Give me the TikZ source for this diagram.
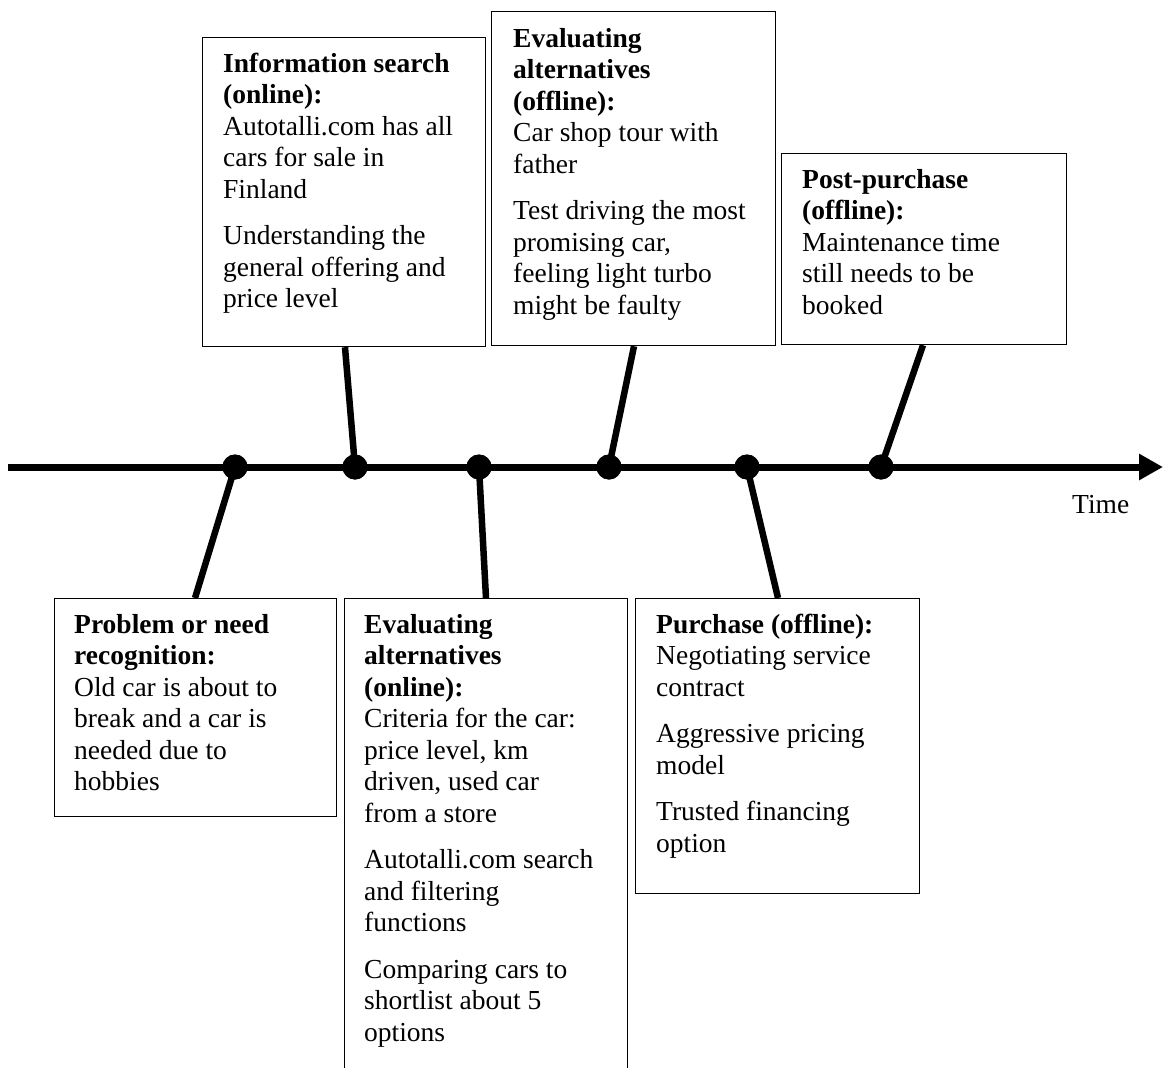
\documentclass[tikz,border=0pt]{standalone}
\usepackage{fontspec}
\setmainfont{Liberation Serif}
\usetikzlibrary{arrows.meta,calc}

\begin{document}
\begin{tikzpicture}[x=1pt,y=-1pt,
  box/.style={draw=black,line width=1.2pt,inner sep=0pt,anchor=north west},
  txt/.style={anchor=north west,inner sep=0pt,align=flush left,text width=268pt,
              font=\fontsize{27.5}{31.5}\selectfont},
  dot/.style={circle,fill=black,inner sep=0pt,minimum size=25pt},
  link/.style={line width=6.5pt},
  timeline/.style={line width=7pt,-{Triangle[length=24pt,width=25pt]}}]

\clip (0,0) rectangle (1163,1068);
\fill[white] (0,0) rectangle (1163,1068);

% stage boxes
\node[box,minimum width=283pt,minimum height=309pt] (info)  at (202,37)  {};
\node[box,minimum width=284pt,minimum height=334pt] (evoff) at (491,11)  {};
\node[box,minimum width=285pt,minimum height=191pt] (post)  at (781,153) {};
\node[box,minimum width=282pt,minimum height=218pt] (prob)  at (54,598)  {};
\node[box,minimum width=283pt,minimum height=500pt] (evon)  at (344,598) {};
\node[box,minimum width=284pt,minimum height=295pt] (purch) at (635,598) {};

% box texts
\node[txt] (infot) at (223,50) {\strut\textbf{Information search}\\\textbf{(online):}\\
  Autotalli.com has all\\cars for sale in\\Finland\\[15pt]
  Understanding the\\general offering and\\price level};
\node[txt] (evofft) at (513,25) {\strut\textbf{Evaluating}\\\textbf{alternatives}\\\textbf{(offline):}\\
  Car shop tour with\\father\\[15pt]
  Test driving the most\\promising car,\\feeling light turbo\\might be faulty};
\node[txt] (postt) at (802,166) {\strut\textbf{Post-purchase}\\\textbf{(offline):}\\
  Maintenance time\\still needs to be\\booked};
\node[txt] (probt) at (74,611) {\strut\textbf{Problem or need}\\\textbf{recognition:}\\
  Old car is about to\\break and a car is\\needed due to\\hobbies};
\node[txt] (evont) at (364,611) {\strut\textbf{Evaluating}\\\textbf{alternatives}\\\textbf{(online):}\\
  Criteria for the car:\\price level, km\\driven, used car\\from a store\\[15pt]
  Autotalli.com search\\and filtering\\functions\\[15pt]
  Comparing cars to\\shortlist about 5\\options};
\node[txt] (purcht) at (656,611) {\strut\textbf{Purchase (offline):}\\
  Negotiating service\\contract\\[15pt]
  Aggressive pricing\\model\\[15pt]
  Trusted financing\\option};

% time axis
\coordinate (tstart) at (8,467);
\coordinate (tend) at (1163,467);
\draw[timeline] (tstart) -- (tend);
\node[anchor=base west,inner sep=0pt,font=\fontsize{27.5}{31.5}\selectfont] (time) at (1072,513) {Time};

% event points
\node[dot] (d1) at (235,467) {};
\node[dot] (d2) at (355,467) {};
\node[dot] (d3) at (479,467) {};
\node[dot] (d4) at (609,467) {};
\node[dot] (d5) at (747,467) {};
\node[dot] (d6) at (881,467) {};

% links from points to boxes
\draw[link] (d1.center) -- ($(prob.north west)+(141,0)$);
\draw[link] (d2.center) -- ($(info.south west)+(143,0)$);
\draw[link] (d3.center) -- ($(evon.north west)+(142,0)$);
\draw[link] (d4.center) -- ($(evoff.south west)+(143,0)$);
\draw[link] (d5.center) -- ($(purch.north west)+(143,0)$);
\draw[link] (d6.center) -- ($(post.south west)+(142,0)$);

% redraw points over the link ends
\fill (d1) circle (12.5);
\fill (d2) circle (12.5);
\fill (d3) circle (12.5);
\fill (d4) circle (12.5);
\fill (d5) circle (12.5);
\fill (d6) circle (12.5);
\end{tikzpicture}
\end{document}
